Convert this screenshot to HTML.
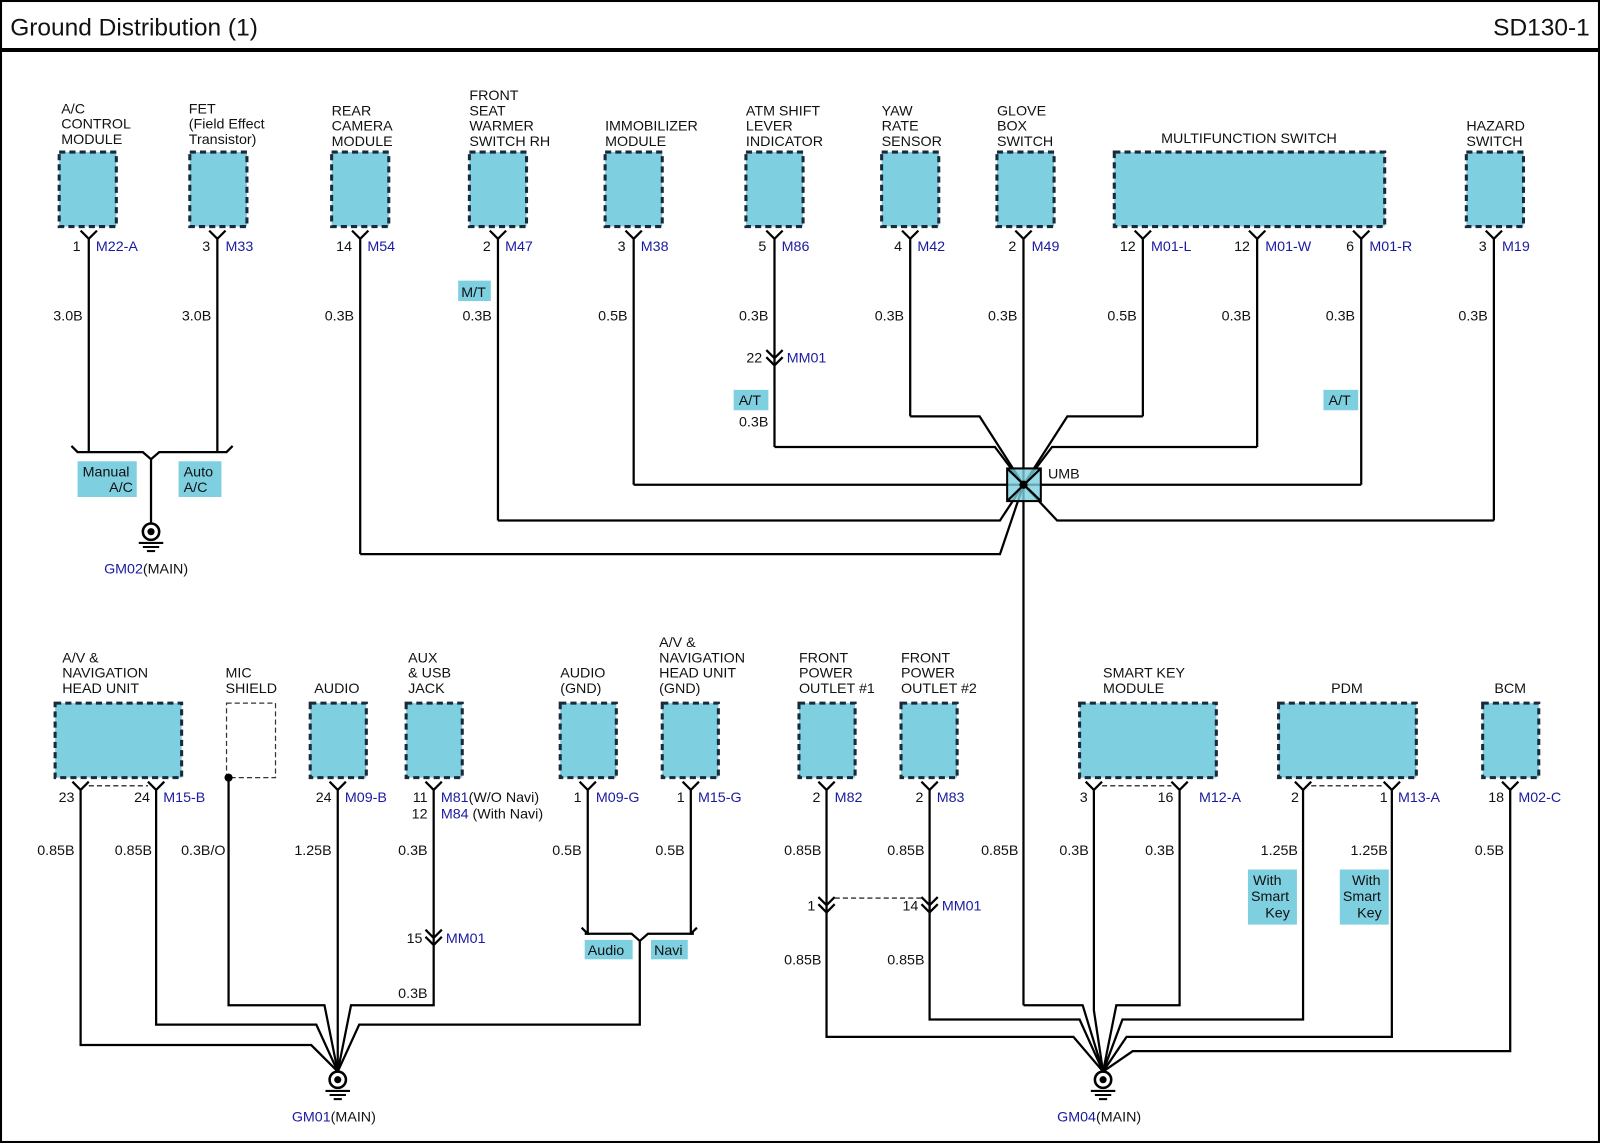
<!DOCTYPE html>
<html><head><meta charset="utf-8"><style>
html,body{margin:0;padding:0;background:#fff;}
svg{display:block;}
text{font-family:"Liberation Sans",Arial,sans-serif;font-size:14px;fill:#111;}
.b{fill:#1a1aa0;}
.box{fill:#7ecfe0;stroke:#1a2a3a;stroke-width:3;stroke-dasharray:6,4;}
.w{fill:none;stroke:#000;stroke-width:2.2;}
.t{fill:#7ecfe0;}
</style></head><body>
<svg width="1600" height="1143" viewBox="0 0 1568 1120" preserveAspectRatio="none" xmlns="http://www.w3.org/2000/svg">
<rect x="1" y="1" width="1566" height="1118" fill="none" stroke="#000" stroke-width="2"/>
<text x="10" y="35" style="font-size:24px">Ground Distribution (1)</text>
<text x="1558" y="35" text-anchor="end" style="font-size:24px">SD130-1</text>
<line x1="0" y1="49" x2="1568" y2="49" stroke="#000" stroke-width="4"/>

<g class="box">
<rect x="58" y="149" width="56" height="73"/><rect x="186" y="149" width="56" height="73"/>
<rect x="325" y="149" width="56" height="73"/><rect x="460" y="149" width="56" height="73"/>
<rect x="593" y="149" width="56" height="73"/><rect x="731" y="149" width="56" height="73"/>
<rect x="864" y="149" width="56" height="73"/><rect x="977" y="149" width="56" height="73"/>
<rect x="1092" y="149" width="265" height="73"/><rect x="1437" y="149" width="56" height="73"/>
</g>
<g>
<text x="60" y="111">A/C</text><text x="60" y="126">CONTROL</text><text x="60" y="141">MODULE</text>
<text x="185" y="111">FET</text><text x="185" y="126">(Field Effect</text><text x="185" y="141">Transistor)</text>
<text x="325" y="113">REAR</text><text x="325" y="128">CAMERA</text><text x="325" y="143">MODULE</text>
<text x="460" y="98">FRONT</text><text x="460" y="113">SEAT</text><text x="460" y="128">WARMER</text><text x="460" y="143">SWITCH RH</text>
<text x="593" y="128">IMMOBILIZER</text><text x="593" y="143">MODULE</text>
<text x="731" y="113">ATM SHIFT</text><text x="731" y="128">LEVER</text><text x="731" y="143">INDICATOR</text>
<text x="864" y="113">YAW</text><text x="864" y="128">RATE</text><text x="864" y="143">SENSOR</text>
<text x="977" y="113">GLOVE</text><text x="977" y="128">BOX</text><text x="977" y="143">SWITCH</text>
<text x="1224" y="140" text-anchor="middle">MULTIFUNCTION SWITCH</text>
<text x="1437" y="128">HAZARD</text><text x="1437" y="143">SWITCH</text>
</g>
<g class="w">
<polyline points="79,226 87,234 95,226"/><polyline points="205,226 213,234 221,226"/>
<polyline points="345,226 353,234 361,226"/><polyline points="480,226 488,234 496,226"/>
<polyline points="613,226 621,234 629,226"/><polyline points="751,226 759,234 767,226"/>
<polyline points="884,226 892,234 900,226"/><polyline points="995,226 1003,234 1011,226"/>
<polyline points="1112,226 1120,234 1128,226"/><polyline points="1224,226 1232,234 1240,226"/>
<polyline points="1326,226 1334,234 1342,226"/><polyline points="1456,226 1464,234 1472,226"/>
</g>
<g>
<text x="79" y="246" text-anchor="end">1</text><text x="94" y="246" class="b">M22-A</text>
<text x="206" y="246" text-anchor="end">3</text><text x="221" y="246" class="b">M33</text>
<text x="345" y="246" text-anchor="end">14</text><text x="360" y="246" class="b">M54</text>
<text x="481" y="246" text-anchor="end">2</text><text x="495" y="246" class="b">M47</text>
<text x="613" y="246" text-anchor="end">3</text><text x="628" y="246" class="b">M38</text>
<text x="751" y="246" text-anchor="end">5</text><text x="766" y="246" class="b">M86</text>
<text x="884" y="246" text-anchor="end">4</text><text x="899" y="246" class="b">M42</text>
<text x="996" y="246" text-anchor="end">2</text><text x="1011" y="246" class="b">M49</text>
<text x="1113" y="246" text-anchor="end">12</text><text x="1128" y="246" class="b">M01-L</text>
<text x="1225" y="246" text-anchor="end">12</text><text x="1240" y="246" class="b">M01-W</text>
<text x="1327" y="246" text-anchor="end">6</text><text x="1342" y="246" class="b">M01-R</text>
<text x="1457" y="246" text-anchor="end">3</text><text x="1472" y="246" class="b">M19</text>
</g>
<g text-anchor="end">
<text x="81" y="314">3.0B</text><text x="207" y="314">3.0B</text><text x="347" y="314">0.3B</text>
<text x="482" y="314">0.3B</text><text x="615" y="314">0.5B</text><text x="753" y="314">0.3B</text>
<text x="886" y="314">0.3B</text><text x="997" y="314">0.3B</text><text x="1114" y="314">0.5B</text>
<text x="1226" y="314">0.3B</text><text x="1328" y="314">0.3B</text><text x="1458" y="314">0.3B</text>
<text x="753" y="418">0.3B</text>
</g>
<rect class="t" x="449" y="275" width="32" height="20"/><text x="452" y="291">M/T</text>
<rect class="t" x="719" y="382" width="34" height="20"/><text x="724" y="397">A/T</text>
<rect class="t" x="1297" y="382" width="34" height="20"/><text x="1302" y="397">A/T</text>
<g class="w"><polyline points="751,343 759,351 767,343"/><polyline points="751,350 759,358 767,350"/></g>
<text x="747" y="355" text-anchor="end">22</text><text x="771" y="355" class="b">MM01</text>

<g class="w">
<line x1="87" y1="234" x2="87" y2="443"/><line x1="213" y1="234" x2="213" y2="443"/>
<polyline points="70,437 76,443 140,443 148,450 156,443 222,443 228,437"/>
<line x1="148" y1="450" x2="148" y2="513"/>
</g>
<rect class="t" x="76" y="452" width="58" height="35"/><text x="81" y="467">Manual</text><text x="107" y="482">A/C</text>
<rect class="t" x="175" y="452" width="42" height="35"/><text x="180" y="467">Auto</text><text x="180" y="482">A/C</text>
<g><circle cx="148" cy="521" r="8" fill="#fff" stroke="#000" stroke-width="2.5"/><circle cx="148" cy="521" r="3.5" fill="#000"/>
<line x1="136" y1="532" x2="160" y2="532" stroke="#000" stroke-width="2"/><line x1="140" y1="536" x2="156" y2="536" stroke="#000" stroke-width="2"/><line x1="144" y1="540" x2="152" y2="540" stroke="#000" stroke-width="2"/></g>
<text x="102" y="562"><tspan class="b">GM02</tspan>(MAIN)</text>

<g class="w">
<line x1="353" y1="234" x2="353" y2="543"/><polyline points="353,543 980,543 1003,475"/>
<line x1="488" y1="234" x2="488" y2="510"/><polyline points="488,510 980,510 1003,475"/>
<line x1="621" y1="234" x2="621" y2="475"/><line x1="621" y1="475" x2="1003" y2="475"/>
<line x1="759" y1="234" x2="759" y2="438"/><polyline points="759,438 975,438 1003,475"/>
<line x1="892" y1="234" x2="892" y2="408"/><polyline points="892,408 960,408 1003,475"/>
<line x1="1003" y1="234" x2="1003" y2="985"/>
<line x1="1120" y1="234" x2="1120" y2="408"/><polyline points="1120,408 1046,408 1003,475"/>
<line x1="1232" y1="234" x2="1232" y2="438"/><polyline points="1232,438 1031,438 1003,475"/>
<line x1="1334" y1="234" x2="1334" y2="475"/><line x1="1334" y1="475" x2="1003" y2="475"/>
<line x1="1464" y1="234" x2="1464" y2="510"/><polyline points="1464,510 1036,510 1003,475"/>
</g>
<rect x="987" y="459" width="33" height="32" fill="#7ecfe0" fill-opacity="0.8" stroke="#000" stroke-width="2"/>
<g class="w"><line x1="987" y1="459" x2="1020" y2="491"/><line x1="1020" y1="459" x2="987" y2="491"/></g>
<circle cx="1003" cy="475" r="4" fill="#000"/>
<text x="1027" y="469">UMB</text>

<g class="box">
<rect x="54" y="689" width="124" height="73"/>
<rect x="304" y="689" width="55" height="73"/><rect x="398" y="689" width="55" height="73"/>
<rect x="549" y="689" width="55" height="73"/><rect x="649" y="689" width="55" height="73"/>
<rect x="783" y="689" width="55" height="73"/><rect x="883" y="689" width="55" height="73"/>
<rect x="1058" y="689" width="134" height="73"/><rect x="1253" y="689" width="135" height="73"/>
<rect x="1453" y="689" width="55" height="73"/>
</g>
<rect x="222" y="689" width="48" height="73" fill="#fff" stroke="#333" stroke-width="1.2" stroke-dasharray="5,3"/>
<g>
<text x="61" y="649">A/V &amp;</text><text x="61" y="664">NAVIGATION</text><text x="61" y="679">HEAD UNIT</text>
<text x="221" y="664">MIC</text><text x="221" y="679">SHIELD</text>
<text x="308" y="679">AUDIO</text>
<text x="400" y="649">AUX</text><text x="400" y="664">&amp; USB</text><text x="400" y="679">JACK</text>
<text x="549" y="664">AUDIO</text><text x="549" y="679">(GND)</text>
<text x="646" y="634">A/V &amp;</text><text x="646" y="649">NAVIGATION</text><text x="646" y="664">HEAD UNIT</text><text x="646" y="679">(GND)</text>
<text x="783" y="649">FRONT</text><text x="783" y="664">POWER</text><text x="783" y="679">OUTLET #1</text>
<text x="883" y="649">FRONT</text><text x="883" y="664">POWER</text><text x="883" y="679">OUTLET #2</text>
<text x="1081" y="664">SMART KEY</text><text x="1081" y="679">MODULE</text>
<text x="1320" y="679" text-anchor="middle">PDM</text>
<text x="1480" y="679" text-anchor="middle">BCM</text>
</g>
<g class="w">
<polyline points="71,766 79,774 87,766"/><polyline points="145,766 153,774 161,766"/>
<polyline points="323,766 331,774 339,766"/><polyline points="417,766 425,774 433,766"/>
<polyline points="568,766 576,774 584,766"/><polyline points="669,766 677,774 685,766"/>
<polyline points="802,766 810,774 818,766"/><polyline points="903,766 911,774 919,766"/>
<polyline points="1064,766 1072,774 1080,766"/><polyline points="1148,766 1156,774 1164,766"/>
<polyline points="1269,766 1277,774 1285,766"/><polyline points="1356,766 1364,774 1372,766"/>
<polyline points="1472,766 1480,774 1488,766"/>
</g>
<g stroke="#000" stroke-width="1.2" stroke-dasharray="5,3">
<line x1="87" y1="770" x2="145" y2="770"/><line x1="1080" y1="770" x2="1148" y2="770"/>
<line x1="1285" y1="770" x2="1356" y2="770"/><line x1="818" y1="880" x2="903" y2="880"/>
</g>
<circle cx="224" cy="762" r="4" fill="#000"/>
<g>
<text x="73" y="786" text-anchor="end">23</text><text x="147" y="786" text-anchor="end">24</text><text x="160" y="786" class="b">M15-B</text>
<text x="325" y="786" text-anchor="end">24</text><text x="338" y="786" class="b">M09-B</text>
<text x="419" y="786" text-anchor="end">11</text><text x="432" y="786"><tspan class="b">M81</tspan>(W/O Navi)</text>
<text x="419" y="802" text-anchor="end">12</text><text x="432" y="802"><tspan class="b">M84</tspan> (With Navi)</text>
<text x="570" y="786" text-anchor="end">1</text><text x="584" y="786" class="b">M09-G</text>
<text x="671" y="786" text-anchor="end">1</text><text x="684" y="786" class="b">M15-G</text>
<text x="804" y="786" text-anchor="end">2</text><text x="818" y="786" class="b">M82</text>
<text x="905" y="786" text-anchor="end">2</text><text x="918" y="786" class="b">M83</text>
<text x="1066" y="786" text-anchor="end">3</text><text x="1150" y="786" text-anchor="end">16</text><text x="1175" y="786" class="b">M12-A</text>
<text x="1273" y="786" text-anchor="end">2</text><text x="1360" y="786" text-anchor="end">1</text><text x="1370" y="786" class="b">M13-A</text>
<text x="1474" y="786" text-anchor="end">18</text><text x="1488" y="786" class="b">M02-C</text>
</g>
<g text-anchor="end">
<text x="73" y="838">0.85B</text><text x="149" y="838">0.85B</text><text x="221" y="838">0.3B/O</text>
<text x="325" y="838">1.25B</text><text x="419" y="838">0.3B</text><text x="570" y="838">0.5B</text>
<text x="671" y="838">0.5B</text><text x="805" y="838">0.85B</text><text x="906" y="838">0.85B</text>
<text x="998" y="838">0.85B</text><text x="1067" y="838">0.3B</text><text x="1151" y="838">0.3B</text>
<text x="1272" y="838">1.25B</text><text x="1360" y="838">1.25B</text><text x="1474" y="838">0.5B</text>
<text x="419" y="978">0.3B</text><text x="805" y="945">0.85B</text><text x="906" y="945">0.85B</text>
</g>
<g class="w">
<polyline points="417,911 425,919 433,911"/><polyline points="417,918 425,926 433,918"/>
<polyline points="802,879 810,887 818,879"/><polyline points="802,886 810,894 818,886"/>
<polyline points="903,879 911,887 919,879"/><polyline points="903,886 911,894 919,886"/>
</g>
<text x="414" y="924" text-anchor="end">15</text><text x="437" y="924" class="b">MM01</text>
<text x="799" y="892" text-anchor="end">1</text>
<text x="900" y="892" text-anchor="end">14</text><text x="923" y="892" class="b">MM01</text>
<rect class="t" x="1223" y="852" width="48" height="54"/><text x="1228" y="867">With</text><text x="1226" y="883">Smart</text><text x="1240" y="899">Key</text>
<rect class="t" x="1313" y="852" width="48" height="54"/><text x="1325" y="867">With</text><text x="1316" y="883">Smart</text><text x="1330" y="899">Key</text>

<g class="w">
<polyline points="79,774 79,1024 305,1024 331,1050"/>
<polyline points="153,774 153,1004 310,1004 331,1050"/>
<polyline points="224,762 224,985 318,985 331,1050"/>
<line x1="331" y1="774" x2="331" y2="1050"/>
<polyline points="425,774 425,985 344,985 331,1050"/>
<polyline points="576,774 576,915 573,915"/>
<polyline points="677,774 677,915 680,915"/>
<polyline points="570,909 576,915 619,915 627,922 635,915 677,915 683,909"/>
<polyline points="627,922 627,1004 352,1004 331,1050"/>
</g>
<rect class="t" x="573" y="921" width="47" height="19"/><text x="576" y="936">Audio</text>
<rect class="t" x="638" y="921" width="36" height="19"/><text x="641" y="936">Navi</text>
<g><circle cx="331" cy="1058" r="8" fill="#fff" stroke="#000" stroke-width="2.5"/><circle cx="331" cy="1058" r="3.5" fill="#000"/>
<line x1="319" y1="1069" x2="343" y2="1069" stroke="#000" stroke-width="2"/><line x1="323" y1="1073" x2="339" y2="1073" stroke="#000" stroke-width="2"/><line x1="327" y1="1077" x2="335" y2="1077" stroke="#000" stroke-width="2"/></g>
<text x="286" y="1099"><tspan class="b">GM01</tspan>(MAIN)</text>

<g class="w">
<polyline points="810,774 810,1016 1052,1016 1081,1050"/>
<polyline points="911,774 911,999 1058,999 1081,1050"/>
<polyline points="1003,985 1061,985 1081,1050"/>
<polyline points="1072,774 1072,990 1081,1050"/>
<polyline points="1156,774 1156,985 1094,985 1081,1050"/>
<polyline points="1277,774 1277,999 1100,999 1081,1050"/>
<polyline points="1364,774 1364,1016 1104,1016 1081,1050"/>
<polyline points="1480,774 1480,1030 1110,1030 1081,1050"/>
</g>
<g><circle cx="1081" cy="1058" r="8" fill="#fff" stroke="#000" stroke-width="2.5"/><circle cx="1081" cy="1058" r="3.5" fill="#000"/>
<line x1="1069" y1="1069" x2="1093" y2="1069" stroke="#000" stroke-width="2"/><line x1="1073" y1="1073" x2="1089" y2="1073" stroke="#000" stroke-width="2"/><line x1="1077" y1="1077" x2="1085" y2="1077" stroke="#000" stroke-width="2"/></g>
<text x="1036" y="1099"><tspan class="b">GM04</tspan>(MAIN)</text>
</svg>
</body></html>
